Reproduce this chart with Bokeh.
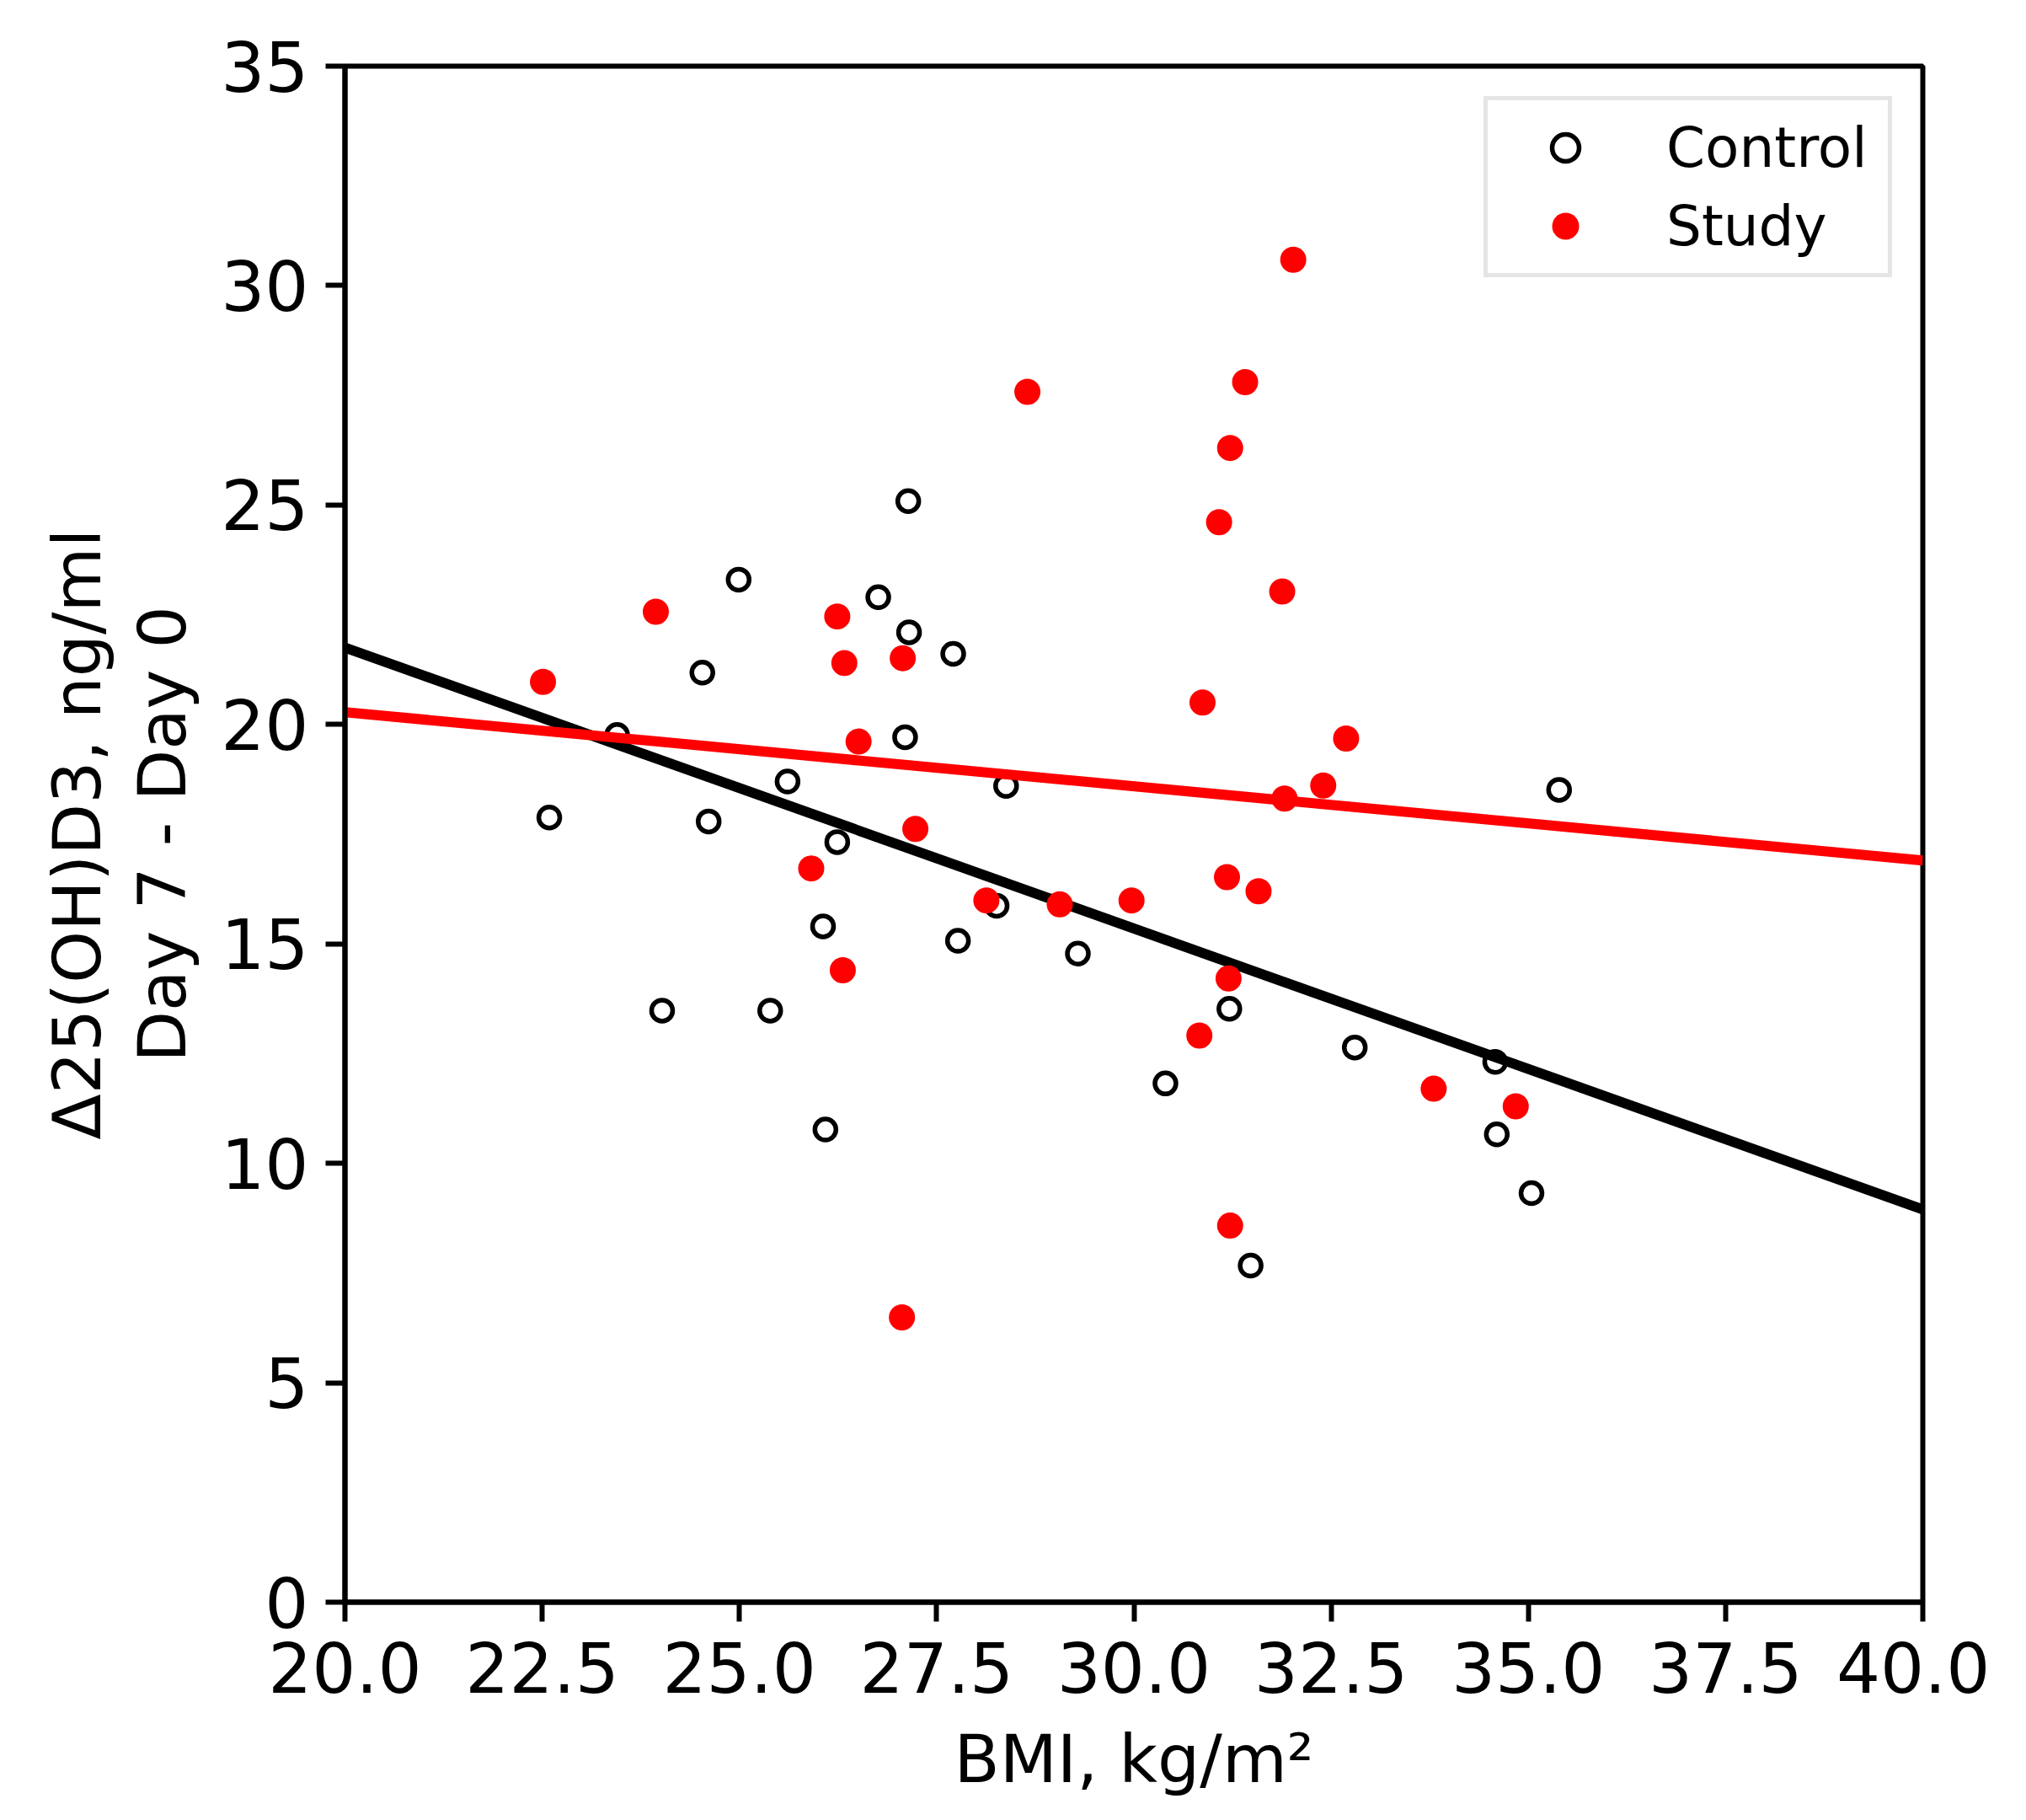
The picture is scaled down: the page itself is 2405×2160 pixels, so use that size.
from bokeh.plotting import figure
from bokeh.models import Range1d, FixedTicker, PrintfTickFormatter, Legend, LegendItem
from bokeh.embed import file_html
from bokeh.resources import INLINE

# ---- data ----
control_bmi = [22.59, 23.45, 24.53, 24.61, 24.02, 24.99, 25.39, 25.61, 26.06, 26.09,
               26.24, 26.76, 27.10, 27.14, 27.15, 27.71, 27.77, 28.26, 28.38, 29.29,
               30.40, 31.21, 31.48, 32.80, 34.58, 34.60, 35.04, 35.39]
control_delta = [17.88, 19.76, 21.18, 17.79, 13.48, 23.30, 13.48, 18.70, 15.40, 10.77,
                 17.32, 22.90, 19.71, 25.09, 22.10, 21.61, 15.07, 15.87, 18.60, 14.78,
                 11.82, 13.52, 7.67, 12.64, 12.31, 10.66, 9.32, 18.51]

study_bmi = [22.51, 23.94, 25.91, 26.24, 26.33, 26.31, 26.51, 27.06, 27.07, 27.23,
             28.13, 28.65, 29.06, 29.97, 30.87, 30.83, 31.08, 31.22, 31.18, 31.20,
             31.22, 31.41, 31.58, 31.88, 31.91, 32.02, 32.40, 32.69, 33.80, 34.84]
study_delta = [20.97, 22.57, 16.72, 22.46, 21.40, 14.40, 19.61, 6.49, 21.51, 17.62,
               15.99, 27.58, 15.90, 15.99, 20.50, 12.91, 24.61, 8.58, 16.52, 14.21,
               26.30, 27.80, 16.20, 23.03, 18.31, 30.59, 18.61, 19.68, 11.70, 11.30]

fit_bmi = [20.0, 40.0]
control_fit = [21.75, 8.95]
study_fit = [20.28, 16.90]

x_ticks = [20.0, 22.5, 25.0, 27.5, 30.0, 32.5, 35.0, 37.5, 40.0]
y_ticks = [0, 5, 10, 15, 20, 25, 30, 35]

FONT = "DejaVu Sans"

p = figure(frame_width=1873, frame_height=1823,
           x_range=Range1d(20, 40), y_range=Range1d(0, 35),
           output_backend="svg", toolbar_location=None,
           min_border_left=409, min_border_top=78,
           min_border_right=80, min_border_bottom=0)

p.background_fill_color = "white"
p.border_fill_color = "white"
p.grid.visible = False
p.outline_line_color = "black"
p.outline_line_width = 6

rc = p.scatter(control_bmi, control_delta, size=25, marker="circle",
               fill_color=None, line_color="black", line_width=5.5)
lc = p.line(fit_bmi, control_fit, line_color="black", line_width=12)
rs = p.scatter(study_bmi, study_delta, size=31, marker="circle",
               fill_color="red", line_color=None)
ls = p.line(fit_bmi, study_fit, line_color="red", line_width=12)

p.xaxis.ticker = FixedTicker(ticks=x_ticks)
p.xaxis.formatter = PrintfTickFormatter(format="%.1f")
p.yaxis.ticker = FixedTicker(ticks=y_ticks)

for ax in (p.xaxis[0], p.yaxis[0]):
    ax.major_tick_out = 23
    ax.major_tick_in = 0
    ax.minor_tick_out = 0
    ax.minor_tick_in = 0
    ax.major_tick_line_width = 6
    ax.major_tick_line_color = "black"
    ax.axis_line_width = 6
    ax.axis_line_color = "black"
    ax.major_label_text_font = FONT
    ax.major_label_text_font_size = "82px"
    ax.major_label_text_color = "black"
    ax.axis_label_text_font = FONT
    ax.axis_label_text_font_size = "79px"
    ax.axis_label_text_font_style = "normal"
    ax.axis_label_text_color = "black"

p.xaxis.axis_label = "BMI, kg/m²"
p.yaxis.axis_label = "Δ25(OH)D3, ng/ml\nDay 7 - Day 0"
p.yaxis.axis_label_text_line_height = 1.1
p.xaxis.major_label_standoff = 24
p.yaxis.major_label_standoff = 20
p.xaxis.axis_label_standoff = 30
p.yaxis.axis_label_standoff = 20

legend = Legend(items=[LegendItem(label="Control", renderers=[rc]),
                       LegendItem(label="Study", renderers=[rs])],
                location="top_right", margin=36, padding=16, spacing=13,
                glyph_width=152, glyph_height=80, label_height=62,
                label_width=247, label_standoff=44)
legend.label_text_font = FONT
legend.label_text_font_size = "66px"
legend.label_text_color = "black"
legend.border_line_color = "#cccccc"
legend.border_line_width = 5
legend.background_fill_color = "white"
legend.background_fill_alpha = 0.8
p.add_layout(legend)

open("out.html", "w").write(file_html(p, INLINE))
